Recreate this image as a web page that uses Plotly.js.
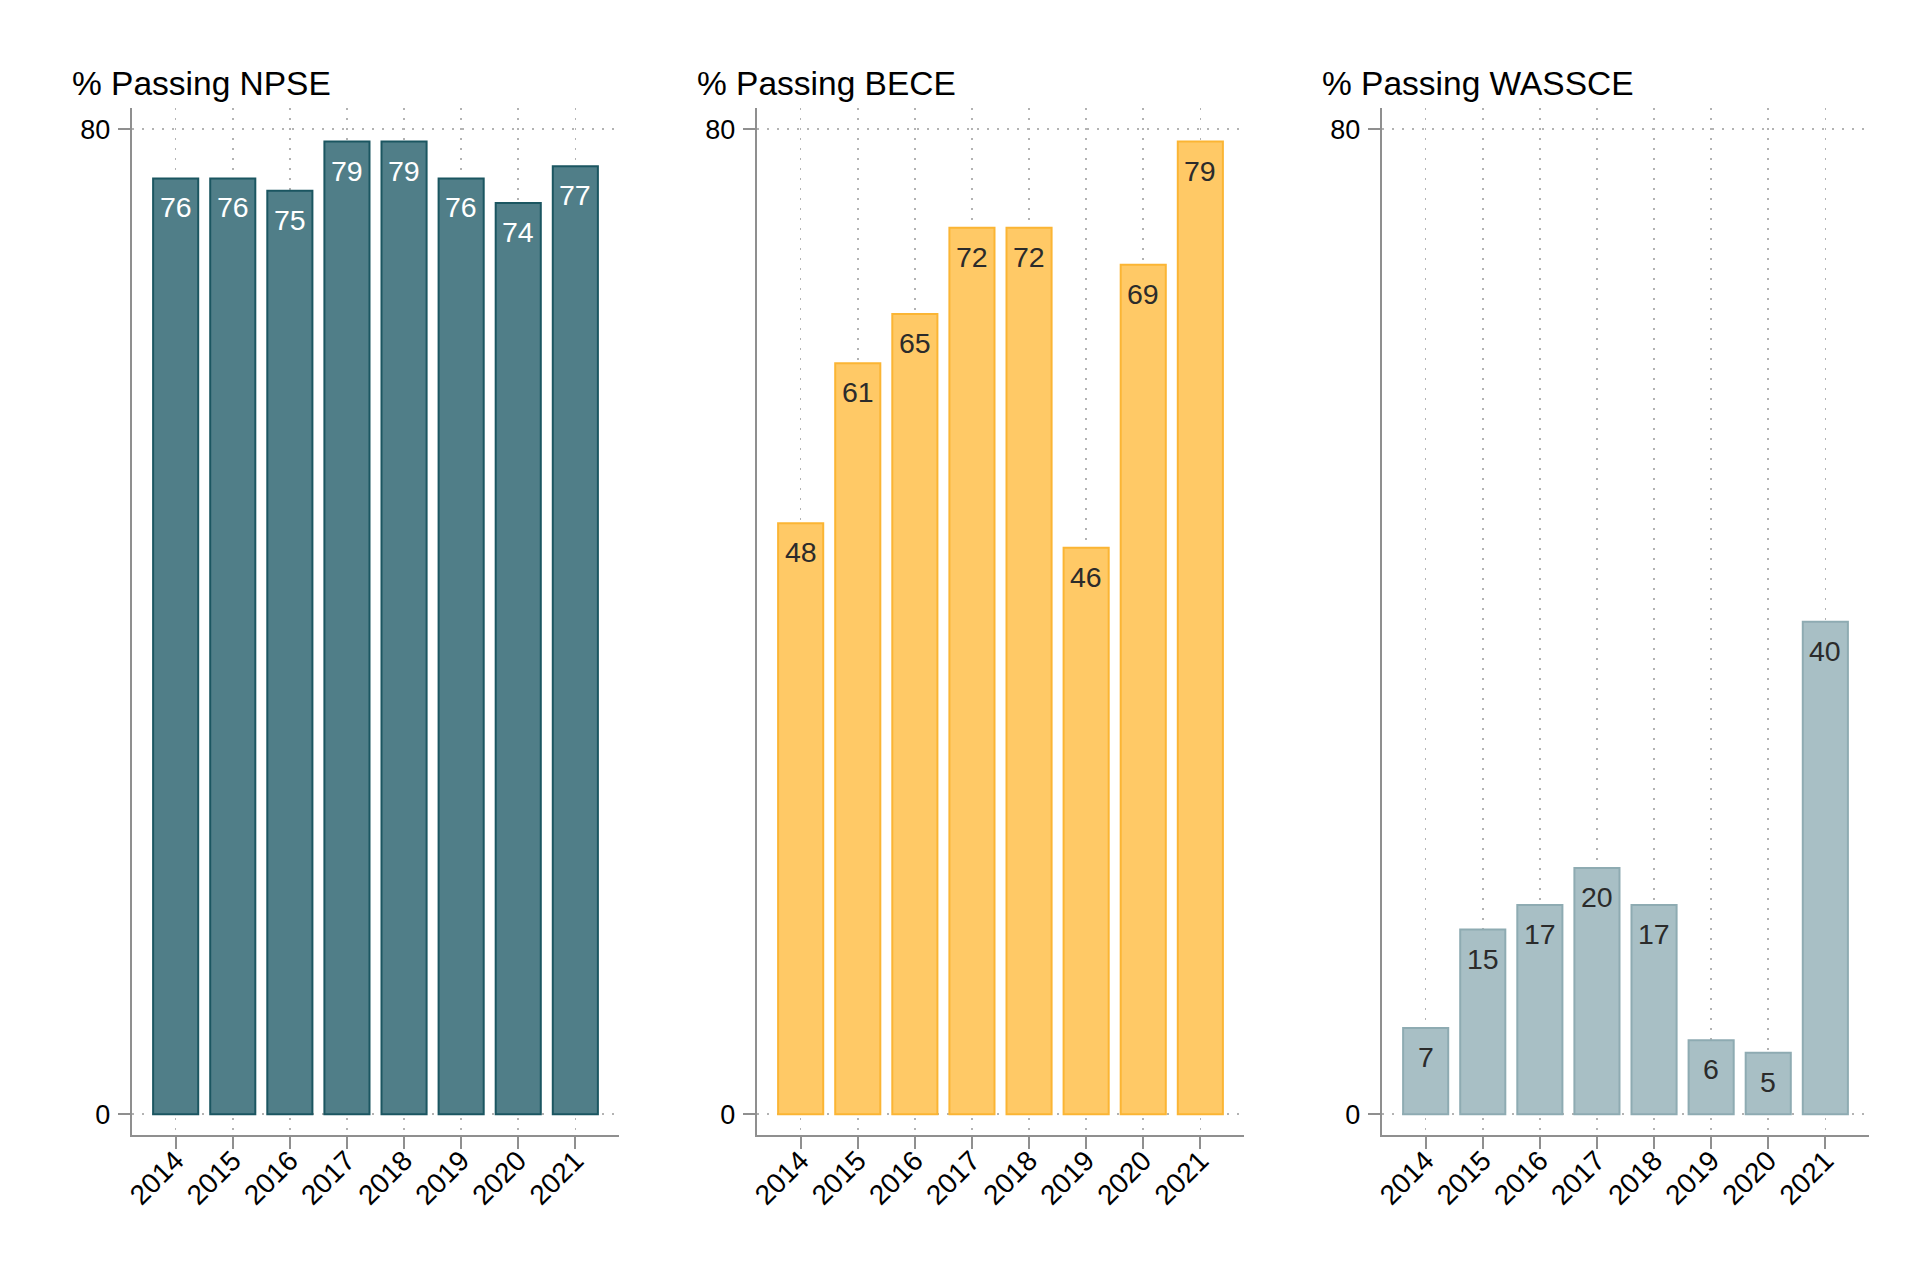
<!DOCTYPE html>
<html>
<head>
<meta charset="utf-8">
<script src="https://cdn.plot.ly/plotly-3.0.1.min.js"></script>
<style>html,body{margin:0;padding:0;background:#fff;}#chart{width:1932px;height:1288px;}</style>
</head>
<body>
<div id="chart"></div>
<script>
const years = ["2014","2015","2016","2017","2018","2019","2020","2021"];
const npse = [76,76,75,79,79,76,74,77];
const bece = [48,61,65,72,72,46,69,79];
const wassce = [7,15,17,20,17,6,5,40];
const titles = ["% Passing NPSE","% Passing BECE","% Passing WASSCE"];
const yTicks = [0,80];

const FONT = "Liberation Sans, Arial, sans-serif";
const series = [npse, bece, wassce];
const fills = ["#507e88","#ffc966","#a8bfc5"];
const lines = ["#1b5661","#fbb534","#8eabb2"];
const textCols = ["#ffffff","#2b2b2b","#2b2b2b"];

const W = 1932, H = 1288;
const axisX = [131.7, 756.7, 1381.7];
const plotW = 487.6;
const yTop = 108.3, yBot = 1135;

const traces = [];
const annotations = [];
const layout = {
  width: W, height: H,
  margin: {l:0, r:0, t:0, b:0},
  paper_bgcolor: "#ffffff",
  plot_bgcolor: "#ffffff",
  showlegend: false,
  font: {family: FONT, color: "#000000"},
  bargap: 0.21
};

for (let i = 0; i < 3; i++) {
  const sfx = i === 0 ? "" : String(i+1);
  const xa = "x" + sfx, ya = "y" + sfx;
  traces.push({
    type: "bar",
    x: years,
    y: series[i],
    xaxis: xa, yaxis: ya,
    marker: {color: fills[i], line: {color: lines[i], width: 2}},
    hoverinfo: "skip"
  });
  series[i].forEach((v, j) => {
    annotations.push({
      xref: xa, yref: ya, x: j, y: v,
      text: String(v), showarrow: false,
      yanchor: "top", xanchor: "center", yshift: -11,
      font: {family: FONT, size: 28.5, color: textCols[i]}
    });
  });
  annotations.push({
    xref: "paper", yref: "paper",
    x: (axisX[i] - 62) / W, y: (H - 84) / H,
    xanchor: "left", yanchor: "middle",
    text: titles[i], showarrow: false,
    font: {family: FONT, size: 33.5, color: "#000000"}
  });
  layout["xaxis" + sfx] = {
    domain: [axisX[i] / W, (axisX[i] + plotW) / W],
    anchor: ya,
    type: "category",
    range: [-0.77, 7.77],
    showline: true, linecolor: "#8f8f8f", linewidth: 2,
    ticks: "outside", ticklen: 12, tickwidth: 2, tickcolor: "#8f8f8f",
    tickangle: -45,
    ticklabelstandoff: -16,
    tickfont: {family: FONT, size: 28, color: "#000000"},
    showgrid: true, gridcolor: "#b3b3b3", gridwidth: 1.5, griddash: "2px,8px",
    zeroline: false, fixedrange: true
  };
  layout["yaxis" + sfx] = {
    domain: [(H - yBot) / H, (H - yTop) / H],
    anchor: xa,
    range: [-1.69, 81.7],
    tickvals: yTicks,
    ticktext: yTicks.map(String),
    showline: true, linecolor: "#8f8f8f", linewidth: 2,
    ticks: "outside", ticklen: 12, tickwidth: 2, tickcolor: "#8f8f8f",
    ticklabelstandoff: 2,
    tickfont: {family: FONT, size: 27, color: "#000000"},
    showgrid: true, gridcolor: "#b3b3b3", gridwidth: 1.5, griddash: "2px,8px",
    zeroline: false, fixedrange: true
  };
}
layout.annotations = annotations;

Plotly.newPlot("chart", traces, layout, {displayModeBar: false, staticPlot: true});
</script>
</body>
</html>
